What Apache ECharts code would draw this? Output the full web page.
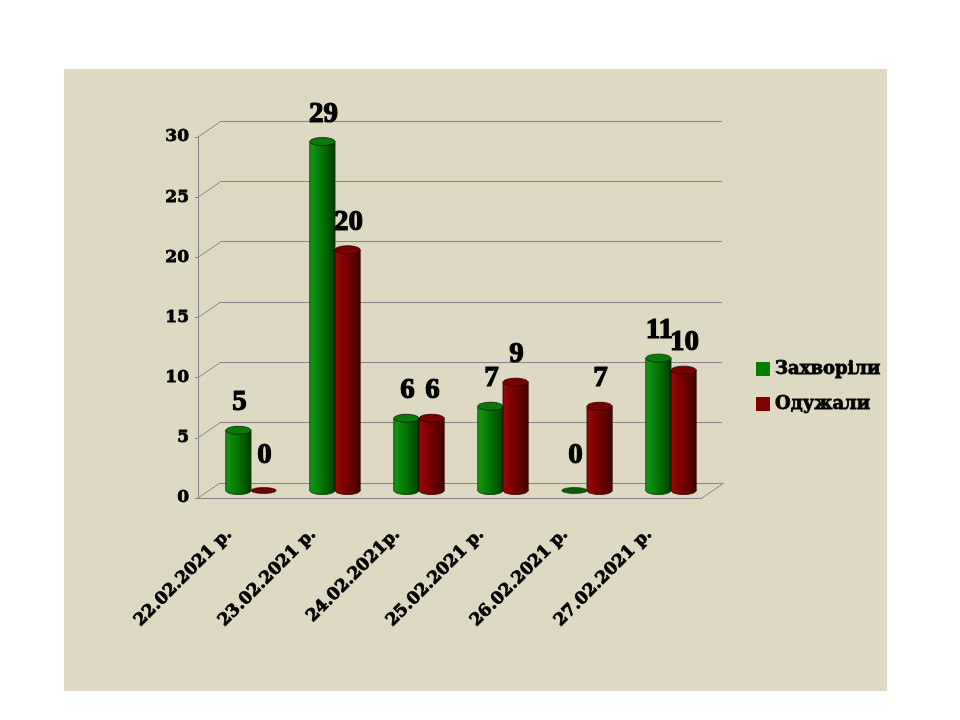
<!DOCTYPE html>
<html>
<head>
<meta charset="utf-8">
<script src="https://cdn.jsdelivr.net/npm/echarts@6/dist/echarts.min.js"></script>
<style>
html,body{margin:0;padding:0;background:#ffffff;}
#chart{width:960px;height:720px;}
</style>
</head>
<body>
<div id="chart"></div>
<script>
// ---- data ----
const categories = ['22.02.2021 р.', '23.02.2021 р.', '24.02.2021р.', '25.02.2021 р.', '26.02.2021 р.', '27.02.2021 р.'];
const seriesNames = ['Захворіли', 'Одужали'];
const sickValues = [5, 29, 6, 7, 0, 11];
const recoveredValues = [0, 20, 6, 9, 7, 10];
const yTicks = [0, 5, 10, 15, 20, 25, 30];

// ---- style constants ----
const DEPTH_X = 22, DEPTH_Y = -15;
const GRID_LINE = '#858585';
const AXIS_FONT = '"DejaVu Serif"';
const LABEL_FONT = 'bold 29px "Liberation Serif", "Times New Roman", serif';

const palettes = [
  { stops: ['#1a961a', '#078407', '#005a00', '#003a00'], top: '#0c780c', edge: '#002800', flat: '#0a5a0a' },
  { stops: ['#9a0a0a', '#820000', '#5e0000', '#3e0000'], top: '#760000', edge: '#2a0000', flat: '#6a0000' }
];

function cylinder(side, pal) {
  return function (params, api) {
    const cat = api.value(0), v = api.value(1);
    const base = api.coord([cat, 0]);
    const topP = api.coord([cat, v]);
    const band = api.size([1, 0])[0];
    const w = band * 0.3;
    const cx = base[0] + DEPTH_X / 2 + side * w / 2;
    const yb = base[1] + DEPTH_Y / 2;
    const yt = topP[1] + DEPTH_Y / 2;
    const rx = w / 2, ry = 4;
    const grad = { type: 'linear', x: 0, y: 0, x2: 1, y2: 0, colorStops: [
      { offset: 0, color: pal.stops[0] }, { offset: 0.3, color: pal.stops[1] },
      { offset: 0.75, color: pal.stops[2] }, { offset: 1, color: pal.stops[3] }] };
    const children = [];
    if (v > 0) {
      children.push({ type: 'ellipse', shape: { cx: cx, cy: yb, rx: rx, ry: ry },
        style: { fill: grad, stroke: pal.edge, lineWidth: 0.8 } });
      children.push({ type: 'rect', shape: { x: cx - rx, y: yt, width: w, height: yb - yt },
        style: { fill: grad } });
      children.push({ type: 'line', shape: { x1: cx - rx, y1: yt, x2: cx - rx, y2: yb },
        style: { stroke: pal.edge, lineWidth: 0.8 } });
      children.push({ type: 'line', shape: { x1: cx + rx, y1: yt, x2: cx + rx, y2: yb },
        style: { stroke: pal.edge, lineWidth: 0.8 } });
      children.push({ type: 'ellipse', shape: { cx: cx, cy: yt, rx: rx, ry: ry },
        style: { fill: pal.top, stroke: pal.edge, lineWidth: 0.8 } });
    } else {
      children.push({ type: 'ellipse', shape: { cx: cx, cy: yb, rx: rx, ry: 3 },
        style: { fill: pal.flat, stroke: pal.edge, lineWidth: 0.6 } });
    }
    children.push({ type: 'text', z2: 10, style: {
      text: String(v), x: cx + 1, y: yt - (v > 0 ? 13 : 20),
      align: 'center', textAlign: 'center', verticalAlign: 'bottom', textVerticalAlign: 'bottom',
      font: LABEL_FONT, fill: '#000', stroke: '#000', lineWidth: 1.2 } });
    return { type: 'group', children: children };
  };
}

function connectors(params, api) {
  const v = api.value(1);
  const cs = params.coordSys;
  const p = api.coord([0, v]);
  const children = [{ type: 'line', shape: { x1: cs.x, y1: p[1], x2: cs.x + DEPTH_X, y2: p[1] + DEPTH_Y },
    style: { stroke: GRID_LINE, lineWidth: 1 } }];
  if (v === yTicks[0]) {
    children.push({ type: 'line', shape: { x1: cs.x + cs.width, y1: p[1], x2: cs.x + cs.width + DEPTH_X, y2: p[1] + DEPTH_Y },
      style: { stroke: GRID_LINE, lineWidth: 1 } });
  }
  return { type: 'group', children: children };
}

const chart = echarts.init(document.getElementById('chart'));
chart.setOption({
  backgroundColor: '#ffffff',
  animation: false,
  graphic: [{ type: 'rect', z: -10, shape: { x: 64, y: 69, width: 823, height: 622 },
    style: { fill: '#DDD9C3' } }],
  legend: {
    data: seriesNames, orient: 'vertical', left: 751, top: 354,
    icon: 'rect', itemWidth: 14, itemHeight: 14, itemGap: 15,
    textStyle: { fontFamily: AXIS_FONT, fontWeight: 'bold', fontSize: 18, color: '#000', lineHeight: 20,
      textBorderColor: '#000', textBorderWidth: 0.8 }
  },
  grid: [
    { left: 198, right: 258, top: 137, bottom: 222 },
    { left: 220, right: 238, top: 121, bottom: 237 }
  ],
  xAxis: [
    { type: 'category', gridIndex: 0, data: categories,
      axisLine: { lineStyle: { color: GRID_LINE } },
      axisTick: { length: 8, lineStyle: { color: GRID_LINE } },
      axisLabel: { rotate: 45, margin: 23, padding: [0, 15, 0, 0], color: '#000', fontFamily: AXIS_FONT,
        fontWeight: 'bold', fontSize: 17, textBorderColor: '#000', textBorderWidth: 0.8 } },
    { type: 'category', gridIndex: 1, data: categories, show: false }
  ],
  yAxis: [
    { type: 'value', gridIndex: 0, min: 0, max: 30, interval: 5,
      axisLine: { show: true, lineStyle: { color: GRID_LINE } },
      axisTick: { show: true, length: 3, lineStyle: { color: GRID_LINE } },
      splitLine: { show: false },
      axisLabel: { margin: 9, color: '#000', fontFamily: AXIS_FONT, fontWeight: 'bold', fontSize: 17,
        textBorderColor: '#000', textBorderWidth: 0.8 } },
    { type: 'value', gridIndex: 1, min: 0, max: 30, interval: 5,
      axisLine: { show: false }, axisTick: { show: false }, axisLabel: { show: false },
      splitLine: { show: true, lineStyle: { color: GRID_LINE, width: 1 } } }
  ],
  series: [
    { type: 'custom', name: 'connectors', xAxisIndex: 0, yAxisIndex: 0, silent: true, z: 1,
      renderItem: connectors, data: yTicks.map(t => [0, t]), clip: false },
    { type: 'custom', name: seriesNames[0], xAxisIndex: 0, yAxisIndex: 0, z: 3,
      itemStyle: { color: '#008000' }, renderItem: cylinder(-1, palettes[0]),
      data: sickValues.map((v, i) => [i, v]), clip: false },
    { type: 'custom', name: seriesNames[1], xAxisIndex: 0, yAxisIndex: 0, z: 3,
      itemStyle: { color: '#800000' }, renderItem: cylinder(1, palettes[1]),
      data: recoveredValues.map((v, i) => [i, v]), clip: false }
  ]
});
</script>
</body>
</html>
